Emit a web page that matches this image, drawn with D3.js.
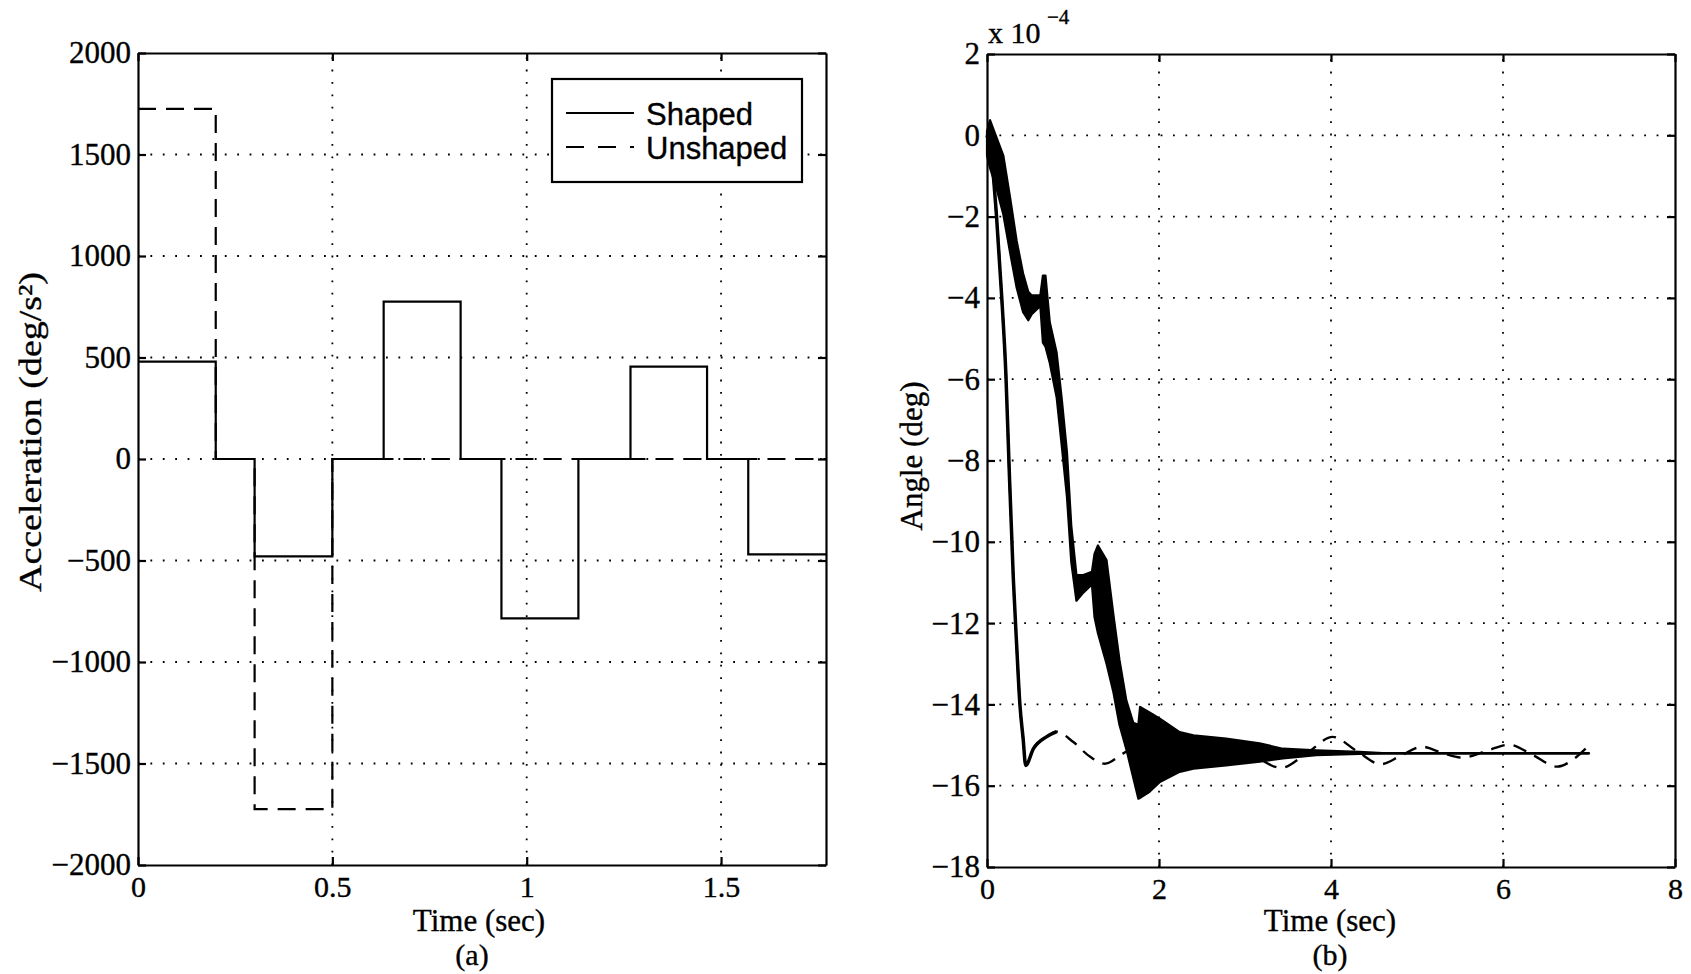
<!DOCTYPE html>
<html>
<head>
<meta charset="utf-8">
<script src="https://cdn.jsdelivr.net/npm/d3@7"></script>
<style>
  body { margin: 0; background: #fff; }
  svg text { font-family: "Liberation Serif", "Times New Roman", serif; fill: #000; stroke: #000; stroke-width: 0.35px; }
  .legend text { font-family: "Liberation Sans", Arial, Helvetica, sans-serif; }
  .grid line { stroke: #000; stroke-width: 1.8; stroke-dasharray: 1.8 10.6; }
  .axis path, .axis line { stroke: #000; stroke-width: 2.2; }
</style>
</head>
<body>
<svg id="fig" width="1691" height="974"></svg>
<script>
// panel (a): acceleration steps, [start time, value] (deg/s^2)
let shapedAccel = [[0, 480], [0.2, 0], [0.3, -480], [0.5, 0], [0.632, 775], [0.83, 0], [0.935, -785], [1.133, 0], [1.267, 455], [1.464, 0], [1.57, -470], [1.77, -470]];
let unshapedAccel = [[0, 1725], [0.2, 0], [0.3, -1725], [0.5, 0], [1.77, 0]];
let accelTicksX = [0, 0.5, 1, 1.5];
let accelTicksY = [-2000, -1500, -1000, -500, 0, 500, 1000, 1500, 2000];

// panel (b): angle response, x 1e-4 deg
// unshaped is a single curve [t, value]
let unshapedAngle = [[0, 0], [0.05, -0.49], [0.11, -1.97], [0.17, -3.94], [0.22, -5.9], [0.255, -8.03], [0.306, -10.9], [0.345, -12.55], [0.383, -14.02], [0.42, -14.84], [0.45, -15.5], [0.54, -15.09], [0.69, -14.8], [0.81, -14.67], [1.0, -14.92], [1.2, -15.29], [1.37, -15.46], [1.58, -15.21], [1.9, -14.9], [2.15, -15.2], [2.4, -15.5], [2.65, -15.25], [2.9, -15.0], [3.1, -15.25], [3.42, -15.56], [3.72, -15.2], [4.02, -14.8], [4.3, -15.15], [4.58, -15.47], [4.82, -15.25], [5.06, -15.04], [5.3, -15.2], [5.53, -15.31], [5.8, -15.15], [6.07, -14.99], [6.35, -15.25], [6.63, -15.53], [6.85, -15.3], [6.98, -15.05]];
// shaped oscillates too fast to resolve, so keep its envelope [t, upper, lower]
let shapedAngleBand = [[0, 0.1, -0.5], [0.035, 0.37, -0.8], [0.11, -0.05, -1.3], [0.19, -0.5, -1.95], [0.27, -1.55, -2.9], [0.345, -2.6, -3.75], [0.42, -3.4, -4.35], [0.48, -3.85, -4.55], [0.52, -3.94, -4.4], [0.62, -3.94, -4.2], [0.65, -3.45, -5.1], [0.68, -3.45, -5.2], [0.73, -4.6, -5.6], [0.81, -5.35, -6.45], [0.87, -6.5, -7.65], [0.93, -7.8, -8.9], [0.98, -9.6, -10.5], [1.04, -10.82, -11.45], [1.12, -10.82, -11.25], [1.22, -10.74, -11.05], [1.25, -10.3, -11.85], [1.29, -10.09, -12.25], [1.39, -10.45, -13.0], [1.47, -11.8, -13.7], [1.54, -12.9, -14.5], [1.62, -13.9, -15.1], [1.7, -14.45, -15.8], [1.76, -14.5, -16.32], [1.78, -14.06, -16.3], [1.89, -14.2, -16.15], [2.01, -14.35, -15.91], [2.24, -14.68, -15.66], [2.4, -14.76, -15.58], [2.78, -14.84, -15.5], [3.17, -14.96, -15.41], [3.44, -15.09, -15.33], [3.83, -15.13, -15.25], [4.33, -15.17, -15.22], [4.6, -15.2, -15.21], [7.0, -15.2, -15.21]];
let angleTicksX = [0, 2, 4, 6, 8];
let angleTicksY = [-18, -16, -14, -12, -10, -8, -6, -4, -2, 0, 2];

let svg = d3.select("#fig");

// shared box + grid + ticks for a matlab-ish panel
let drawFrame = (g, x, y, ticksX, ticksY) => {
  let [x0, x1] = x.range();
  let [y0, y1] = y.range();

  let grid = g.append("g").attr("class", "grid");
  grid.selectAll("line.gx")
    .data(ticksX.filter((t) => t > x.domain()[0] && t < x.domain()[1]))
    .join("line")
    .attr("class", "gx")
    .attr("x1", (d) => x(d)).attr("x2", (d) => x(d))
    .attr("y1", y0).attr("y2", y1);
  grid.selectAll("line.gy")
    .data(ticksY.filter((t) => t > y.domain()[0] && t < y.domain()[1]))
    .join("line")
    .attr("class", "gy")
    .attr("x1", x0).attr("x2", x1)
    .attr("y1", (d) => y(d)).attr("y2", (d) => y(d));

  let fmt = (d) => d3.format("")(d);
  g.append("g").attr("class", "axis")
    .attr("transform", `translate(0,${y0})`)
    .call(d3.axisBottom(x).tickValues(ticksX).tickFormat(fmt).tickSizeInner(-8).tickSizeOuter(0).tickPadding(11))
    .selectAll("text").style("font-size", "30px");
  g.append("g").attr("class", "axis")
    .attr("transform", `translate(${x0},0)`)
    .call(d3.axisLeft(y).tickValues(ticksY).tickFormat(fmt).tickSizeInner(-8).tickSizeOuter(0).tickPadding(7))
    .selectAll("text").style("font-size", "31px");
  g.append("g").attr("class", "axis")
    .attr("transform", `translate(0,${y1})`)
    .call(d3.axisTop(x).tickValues(ticksX).tickFormat("").tickSizeInner(-8).tickSizeOuter(0));
  g.append("g").attr("class", "axis")
    .attr("transform", `translate(${x1},0)`)
    .call(d3.axisRight(y).tickValues(ticksY).tickFormat("").tickSizeInner(-8).tickSizeOuter(0));
};

// ---------- (a) ----------
let xA = d3.scaleLinear().domain([0, 1.77]).range([138, 826]);
let yA = d3.scaleLinear().domain([-2000, 2000]).range([865, 53]);
let gA = svg.append("g");
drawFrame(gA, xA, yA, accelTicksX, accelTicksY);

let stepLine = d3.line().x((d) => xA(d[0])).y((d) => yA(d[1])).curve(d3.curveStepAfter);
gA.append("path")
  .datum(unshapedAccel)
  .attr("d", stepLine)
  .attr("fill", "none")
  .attr("stroke", "#000")
  .attr("stroke-width", 2.2)
  .attr("stroke-dasharray", "18 10");
gA.append("path")
  .datum(shapedAccel)
  .attr("d", stepLine)
  .attr("fill", "none")
  .attr("stroke", "#000")
  .attr("stroke-width", 2.2);

gA.append("text")
  .attr("transform", "translate(41,432) rotate(-90)")
  .attr("text-anchor", "middle")
  .attr("textLength", 320)
  .attr("lengthAdjust", "spacingAndGlyphs")
  .style("font-size", "32px")
  .text("Acceleration (deg/s²)");
gA.append("text")
  .attr("x", 479).attr("y", 931)
  .attr("text-anchor", "middle")
  .style("font-size", "31px")
  .text("Time (sec)");
gA.append("text")
  .attr("x", 472).attr("y", 965)
  .attr("text-anchor", "middle")
  .style("font-size", "30px")
  .text("(a)");

// legend
let legend = gA.append("g").attr("class", "legend");
legend.append("rect")
  .attr("x", 552).attr("y", 79).attr("width", 250).attr("height", 103)
  .attr("fill", "#fff").attr("stroke", "#000").attr("stroke-width", 2.2);
let legendItems = [
  { name: "Shaped", dash: null },
  { name: "Unshaped", dash: "18 14" },
];
legendItems.forEach((item, i) => {
  let ly = 113 + i * 34;
  legend.append("line")
    .attr("x1", 566).attr("x2", 634).attr("y1", ly).attr("y2", ly)
    .attr("stroke", "#000").attr("stroke-width", 2)
    .attr("stroke-dasharray", item.dash);
  legend.append("text")
    .attr("x", 646).attr("y", ly + 12)
    .style("font-size", "31px")
    .text(item.name);
});

// ---------- (b) ----------
let xB = d3.scaleLinear().domain([0, 8]).range([987, 1675]);
let yB = d3.scaleLinear().domain([-18, 2]).range([867, 54]);
let gB = svg.append("g");
drawFrame(gB, xB, yB, angleTicksX, angleTicksY);

let angleLine = d3.line().x((d) => xB(d[0])).y((d) => yB(d[1])).curve(d3.curveMonotoneX);
gB.append("path")
  .datum(unshapedAngle)
  .attr("d", angleLine)
  .attr("fill", "none")
  .attr("stroke", "#000")
  .attr("stroke-width", 2.4)
  .attr("stroke-dasharray", "14 9");
// steep start reads as solid in the print
gB.append("path")
  .datum(unshapedAngle.filter((d) => d[0] <= 0.81))
  .attr("d", angleLine)
  .attr("fill", "none")
  .attr("stroke", "#000")
  .attr("stroke-width", 3.5);

let band = d3.area()
  .x((d) => xB(d[0]))
  .y0((d) => yB(d[1]))
  .y1((d) => yB(d[2]));
gB.append("path")
  .datum(shapedAngleBand)
  .attr("d", band)
  .attr("fill", "#000")
  .attr("stroke", "#000")
  .attr("stroke-width", 2.2)
  .attr("stroke-linejoin", "round");

gB.append("text")
  .attr("transform", "translate(922,456) rotate(-90)")
  .attr("text-anchor", "middle")
  .style("font-size", "31px")
  .text("Angle (deg)");
gB.append("text")
  .attr("x", 1330).attr("y", 931)
  .attr("text-anchor", "middle")
  .style("font-size", "31px")
  .text("Time (sec)");
gB.append("text")
  .attr("x", 1330).attr("y", 965)
  .attr("text-anchor", "middle")
  .style("font-size", "30px")
  .text("(b)");
// exponent label
gB.append("text")
  .attr("x", 988).attr("y", 43)
  .style("font-size", "30px")
  .text("x 10");
gB.append("text")
  .attr("x", 1047).attr("y", 24)
  .style("font-size", "21px")
  .text("−4");
</script>
</body>
</html>
